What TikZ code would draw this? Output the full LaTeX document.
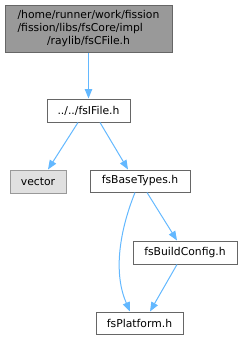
\documentclass[tikz,border=0pt]{standalone}
\usepackage{fontspec}
\setmainfont{DejaVu Sans}
\usetikzlibrary{arrows.meta,calc}
\definecolor{edgeblue}{HTML}{63B8FF}
\definecolor{topfill}{HTML}{999999}
\definecolor{topdraw}{HTML}{666666}
\definecolor{extfill}{HTML}{E0E0E0}
\definecolor{extdraw}{HTML}{999999}
\begin{document}
\begin{tikzpicture}[x=0.75pt,y=-0.75pt,
  every node/.style={font=\fontsize{8.1pt}{9.75pt}\selectfont, inner sep=0pt},
  filebox/.style={draw=topdraw, fill=white, line width=0.75pt, rectangle},
  topbox/.style={draw=topdraw, fill=topfill, line width=0.75pt, rectangle},
  extbox/.style={draw=extdraw, fill=extfill, line width=0.75pt, rectangle},
  dep/.style={draw=edgeblue, line width=0.75pt, -{Triangle[length=7pt,width=5.5pt]}}]
\useasboundingbox (0,0) rectangle (242,340);
\node[topbox, minimum width=167*0.75pt, minimum height=47*0.75pt] (top) at (88.5,28.5)
  {\begin{tabular}{@{}l@{}}/home/runner/work/fission\\/fission/libs/fsCore/impl\\\multicolumn{1}{@{}c@{}}{/raylib/fsCFile.h}\end{tabular}};
\node[filebox, minimum width=83*0.75pt, minimum height=23*0.75pt] (ifile) at (88.5,110.5) {../../fsIFile.h};
\node[extbox, minimum width=56*0.75pt, minimum height=23*0.75pt] (vector) at (38,181.5) {vector};
\node[filebox, minimum width=100*0.75pt, minimum height=22*0.75pt] (base) at (140,181) {fsBaseTypes.h};
\node[filebox, minimum width=104*0.75pt, minimum height=23*0.75pt] (build) at (185,252.5) {fsBuildConfig.h};
\node[filebox, minimum width=87*0.75pt, minimum height=22*0.75pt] (plat) at (139.5,323) {fsPlatform.h};
\draw[dep] (top.south) -- (ifile.north);
\draw[dep] ($(ifile.south)+(-10.5,0)$) -- ($(vector.north)+(10,0)$);
\draw[dep] ($(ifile.south)+(11.5,0)$) -- ($(base.north)+(-12,0)$);
\draw[dep] ($(base.south)+(-5,0)$) .. controls (118,235) and (114,275) .. ($(plat.north)+(-9.5,0)$);
\draw[dep] ($(base.south)+(7,0)$) -- ($(build.north)+(-8,0)$);
\draw[dep] ($(build.south)+(-8,0)$) -- ($(plat.north)+(10.5,0)$);
\end{tikzpicture}
\end{document}
